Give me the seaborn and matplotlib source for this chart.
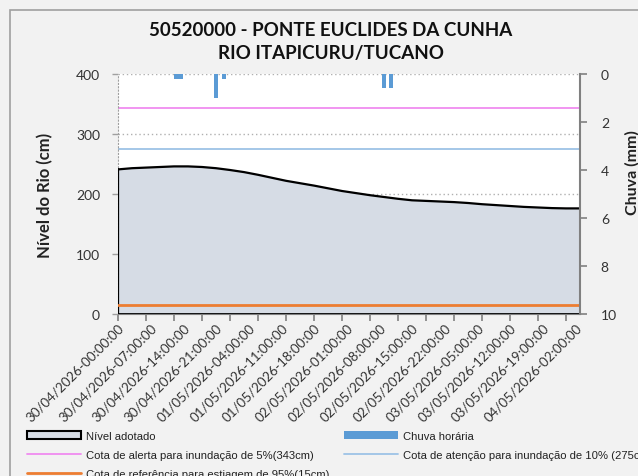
import matplotlib
matplotlib.use("Agg")
import matplotlib.pyplot as plt
import matplotlib.patches as mpatches
from matplotlib.lines import Line2D
import seaborn as sns
import pandas as pd

# ---------------- data ----------------
level_hours = [0, 3, 6, 9, 12, 15, 18, 21, 24, 27, 30, 33, 36, 39, 42, 45, 48, 51,
               54, 57, 60, 63, 66, 69, 72, 75, 78, 81, 84, 87, 90, 93, 96, 99]
level_cm = [241, 243, 244, 245, 246, 246, 245, 243, 240, 236.5, 232, 227, 222, 218,
            214, 209.5, 205, 201.5, 198, 195, 192, 189.5, 188.5, 187.5, 186.5, 185,
            183, 181.5, 180, 178.5, 177.5, 176.5, 176, 176]
rain_hours = [12.5, 13.5, 21.0, 22.7, 57.0, 58.5]
rain_mm = [0.2, 0.2, 1.0, 0.2, 0.6, 0.6]
alert_cm = 343
attention_cm = 275
drought_cm = 15
label_hours = [0, 7, 14, 21, 28, 35, 42, 49, 56, 63, 70, 77, 84, 91, 98]
tick_labels = ["30/04/2026-00:00:00", "30/04/2026-07:00:00", "30/04/2026-14:00:00",
               "30/04/2026-21:00:00", "01/05/2026-04:00:00", "01/05/2026-11:00:00",
               "01/05/2026-18:00:00", "02/05/2026-01:00:00", "02/05/2026-08:00:00",
               "02/05/2026-15:00:00", "02/05/2026-22:00:00", "03/05/2026-05:00:00",
               "03/05/2026-12:00:00", "03/05/2026-19:00:00", "04/05/2026-02:00:00"]
mark_hours = [0, 6, 12, 18, 24, 30, 36, 42, 48, 54, 60, 66, 72, 78, 84, 90, 96]

df = pd.DataFrame({"hora": level_hours, "nivel": level_cm})

# ---------------- style ----------------
sns.set_style("white")
plt.rcParams["font.family"] = ["Lato", "DejaVu Sans"]

BG = "#f2f2f2"
W, H = 638, 477
fig = plt.figure(figsize=(W / 100, H / 100), dpi=100, facecolor=BG)

# outer chart border
fig.patches.append(mpatches.Rectangle((9.5 / W, -0.2), 1.2, 1.2 - 11 / H,
                                      transform=fig.transFigure, fill=False,
                                      edgecolor="#a0a0a0", linewidth=1.2))

ax = fig.add_axes([118 / W, 1 - 315 / H, 462 / W, 240 / H])
ax.set_facecolor("white")

# grid (behind)
for v in [100, 200, 300, 400]:
    ax.axhline(v, color="#b0b0b0", linestyle=(0, (1, 2)), linewidth=1.0, zorder=0.5)

# level area
ax.fill_between(df["hora"], 0, df["nivel"], facecolor="#d6dce5", edgecolor="none", zorder=1)
sns.lineplot(data=df, x="hora", y="nivel", ax=ax, color="black", linewidth=1.6, zorder=3)
ax.plot([0, 0], [0, level_cm[0]], color="black", linewidth=1.6, zorder=3)
ax.axhline(0, color="black", linewidth=2.0, zorder=3)

ax.axhline(alert_cm, color="#f08cf0", linewidth=1.3, zorder=2)
ax.axhline(attention_cm, color="#9dc3e6", linewidth=1.3, zorder=2)
ax.axhline(drought_cm, color="#ed7d31", linewidth=2.0, zorder=4)

ax.set_xlim(0, 99)
ax.set_ylim(0, 400)
ax.set_yticks([0, 100, 200, 300, 400])
ax.tick_params(axis="y", labelsize=10, labelcolor="#333333", color="#a0a0a0",
               length=4, width=1, direction="out", pad=9, left=True)

ax.xaxis.remove_overlapping_locs = False
ax.set_xticks(label_hours)
ax.set_xticklabels(tick_labels, rotation=45, ha="right",
                   rotation_mode="anchor", fontsize=9.6, color="#333333")
ax.tick_params(axis="x", which="major", length=0, pad=5)
ax.set_xticks(mark_hours, minor=True)
ax.tick_params(axis="x", which="minor", length=5, color="#808080", width=1.2, bottom=True)
ax.set_xlabel("")
ax.set_ylabel("Nível do Rio (cm)", fontsize=12, fontweight="bold", color="#222222",
              labelpad=16)

ax.spines["top"].set_visible(False)
ax.spines["left"].set_color("#a0a0a0")
ax.spines["left"].set_linestyle((0, (1, 2)))
ax.spines["bottom"].set_color("#808080")
ax.spines["right"].set_visible(False)

# rain axis
ax2 = ax.twinx()
ax2.bar(rain_hours, rain_mm, width=1.0, color="#5b9bd5", align="center", zorder=5,
        linewidth=0)
ax2.set_ylim(10, 0)
ax2.set_yticks([0, 2, 4, 6, 8, 10])
ax2.tick_params(axis="y", labelsize=10, labelcolor="#333333", color="#808080",
                length=5, width=1.2, direction="out", pad=10, right=True)
for s in ["top", "left", "bottom"]:
    ax2.spines[s].set_visible(False)
ax2.spines["right"].set_color("#808080")
ax2.spines["right"].set_linewidth(1.5)
ax2.set_ylabel("")
fig.text(632 / W, 1 - 173 / H, "Chuva (mm)", rotation=90, ha="center", va="center",
         fontsize=11.5, fontweight="bold", color="#222222")

# title
fig.text(331 / W, 1 - 30 / H, "50520000 - PONTE EUCLIDES DA CUNHA", ha="center",
         va="center", fontsize=13.5, fontweight="bold", color="#111111")
fig.text(331 / W, 1 - 54 / H, "RIO ITAPICURU/TUCANO", ha="center",
         va="center", fontsize=13.5, fontweight="bold", color="#111111")

# legend
handles = [
    mpatches.Patch(facecolor="#d6dce5", edgecolor="black", linewidth=1.5, label="Nível adotado"),
    Line2D([], [], color="#f08cf0", linewidth=1.3, label="Cota de alerta para inundação de 5%(343cm)"),
    Line2D([], [], color="#ed7d31", linewidth=2.0, label="Cota de referência para estiagem de 95%(15cm)"),
    mpatches.Patch(facecolor="#5b9bd5", edgecolor="none", label="Chuva horária"),
    Line2D([], [], color="#9dc3e6", linewidth=1.3, label="Cota de atenção para inundação de 10% (275cm)"),
]
leg = fig.legend(handles=handles, ncol=2, loc="upper left",
                 bbox_to_anchor=(27 / W, 1 - 432 / H), frameon=False,
                 prop={"family": "Liberation Sans", "size": 8.1},
                 handlelength=4.8, handleheight=0.6, handletextpad=0.45,
                 labelspacing=0.78, columnspacing=1.25, borderaxespad=0, borderpad=0)
for t in leg.get_texts():
    t.set_color("#222222")

fig.savefig("out.png", dpi=100, facecolor=BG)
